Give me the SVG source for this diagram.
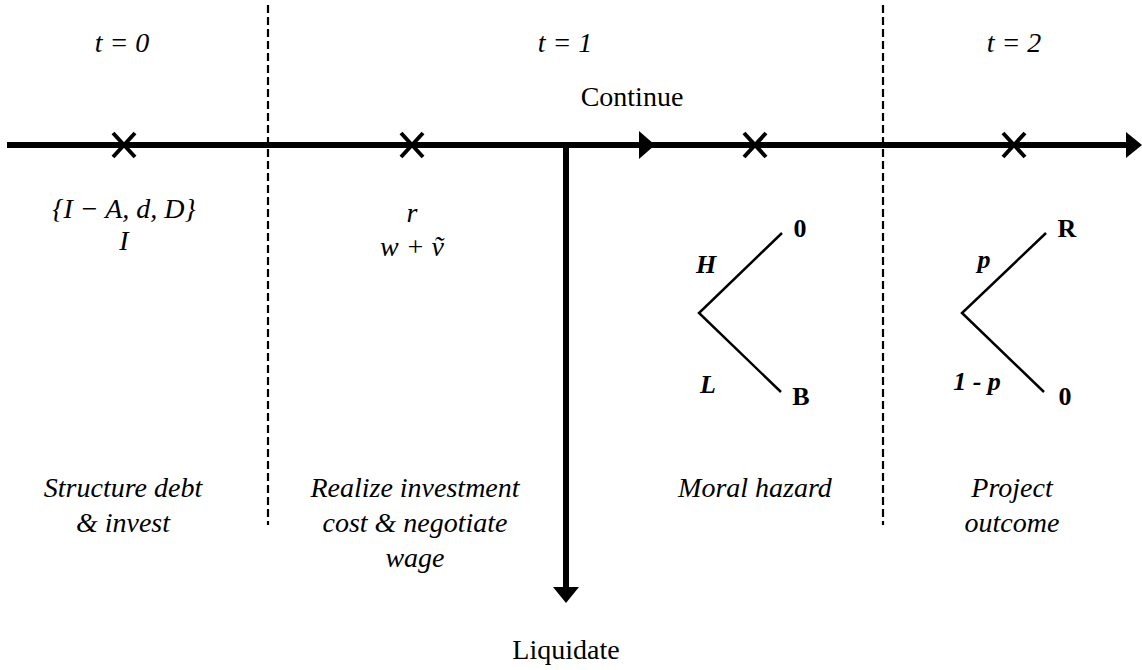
<svg xmlns="http://www.w3.org/2000/svg" width="1142" height="670" viewBox="0 0 1142 670">
<style>
.t{font-family:"Liberation Serif",serif;font-size:28px;fill:#000;text-anchor:middle}
.i{font-style:italic}
.b{font-weight:bold}
.m{font-family:"Liberation Serif",serif;font-size:26px;fill:#000;text-anchor:middle}
.dash{stroke:#000;stroke-width:2.2;stroke-dasharray:8 4;fill:none}
.line{stroke:#000;stroke-width:6;fill:none}
.x{stroke:#000;stroke-width:4;fill:none}
.br{stroke:#000;stroke-width:2.5;fill:none}
</style>
<rect width="1142" height="670" fill="#fff"/>
<g id="dividers">
<line class="dash" x1="268" y1="5" x2="268" y2="525"/>
<line class="dash" x1="883" y1="5" x2="883" y2="525"/>
</g>
<g id="connectors">
<line class="line" x1="7" y1="145" x2="1128" y2="145"/>
<polygon points="1126,132 1142,145 1126,158" fill="#000"/>
<polygon points="639,131 655,145 639,159" fill="#000"/>
<line class="line" x1="566" y1="145" x2="566" y2="590"/>
<polygon points="553,587 579,587 566,603" fill="#000"/>
</g>
<g id="period-labels">
<text class="t i" x="122" y="52">t = 0</text>
<text class="t i" x="565" y="52">t = 1</text>
<text class="t i" x="1014" y="52">t = 2</text>
</g>
<g id="continue"><text class="t" x="632" y="106">Continue</text></g>
<g id="liquidate"><text class="t" x="566" y="659">Liquidate</text></g>
<g id="t0-event">
<path class="x" d="M113,133 L135,157 M135,133 L113,157"/>
<text class="t i" x="124" y="218">{I − A, d, D}</text>
<text class="t i" x="124" y="250">I</text>
<text class="t i" x="123" y="497">Structure debt</text>
<text class="t i" x="123" y="532">&amp; invest</text>
</g>
<g id="t1-event">
<path class="x" d="M401,133 L423,157 M423,133 L401,157"/>
<text class="t i" x="412" y="222">r</text>
<text class="t i" x="412" y="256">w + ṽ</text>
<text class="t i" x="415" y="497">Realize investment</text>
<text class="t i" x="415" y="532">cost &amp; negotiate</text>
<text class="t i" x="415" y="567">wage</text>
</g>
<g id="moral-hazard">
<path class="x" d="M744,133 L766,157 M766,133 L744,157"/>
<path class="br" d="M782,233 L699,313 L781,392"/>
<text class="m i b" x="706" y="273">H</text>
<text class="m b" x="800" y="237">0</text>
<text class="m i b" x="708" y="393">L</text>
<text class="m b" x="801" y="405">B</text>
<text class="t i" x="755" y="497">Moral hazard</text>
</g>
<g id="project-outcome">
<path class="x" d="M1003,133 L1025,157 M1025,133 L1003,157"/>
<path class="br" d="M1046,233 L962,313 L1044,392"/>
<text class="m i b" x="984" y="268">p</text>
<text class="m b" x="1067" y="237">R</text>
<text class="m i b" x="977" y="390">1 - p</text>
<text class="m b" x="1065" y="405">0</text>
<text class="t i" x="1012" y="497">Project</text>
<text class="t i" x="1012" y="532">outcome</text>
</g>
</svg>
